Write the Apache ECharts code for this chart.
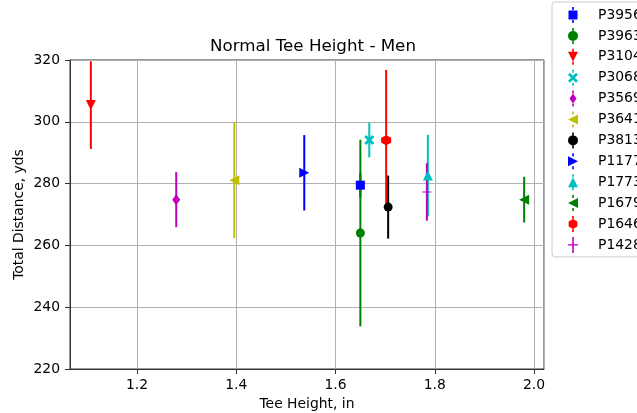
<!DOCTYPE html>
<html>
<head>
<meta charset="utf-8">
<script src="https://cdn.jsdelivr.net/npm/echarts@6/dist/echarts.min.js"></script>
<style>
  html, body { margin: 0; padding: 0; background: #fff; }
  #chart { width: 637px; height: 413px; }
</style>
</head>
<body>
<div id="chart"></div>
<script>
// 数据
var players = ['P3956', 'P3963', 'P3104', 'P3068', 'P3569', 'P3641', 'P3813', 'P1177', 'P1773', 'P1679', 'P1646', 'P1428'];
var teeHeight = [1.650, 1.650, 1.107, 1.668, 1.279, 1.396, 1.706, 1.537, 1.786, 1.980, 1.702, 1.784];
var totalDistance = [279.5, 264.0, 305.4, 294.1, 274.8, 281.1, 272.4, 283.5, 282.6, 274.8, 294.0, 277.3];
var distanceErr = [4.0, 30.2, 14.2, 5.6, 8.9, 18.7, 10.2, 12.2, 13.2, 7.4, 22.8, 9.3];
var yTicks = [220, 240, 260, 280, 300, 320];

// 样式
var colors = ['#0000ff', '#008000', '#ff0000', '#00bfbf', '#bf00bf', '#bfbf00', '#000000', '#0000ff', '#00bfbf', '#008000', '#ff0000', '#bf00bf'];
var symbols = [
    'rect',
    'circle',
    'path://M0,0L10,0L5,10Z',                                   // v
    'path://M2,0L5,3L8,0L10,2L7,5L10,8L8,10L5,7L2,10L0,8L3,5L0,2Z', // X
    'path://M5,0L8.5,5L5,10L1.5,5Z',                            // 细菱形
    'path://M10,0L10,10L0,5Z',                                  // <
    'circle',
    'path://M0,0L0,10L10,5Z',                                   // >
    'triangle',
    'path://M10,0L10,10L0,5Z',                                  // <
    'path://M5,0L9.33,2.5L9.33,7.5L5,10L0.67,7.5L0.67,2.5Z',    // 六边形
    'path://M4.4,0H5.6V4.4H10V5.6H5.6V10H4.4V5.6H0V4.4H4.4Z'    // +
];
var symbolSizes = [9, 9, 10, 10, [8, 11], 10, 9, 10, 10, 10, 10, 9];

// 图例图标：标记 + 上下误差线短头
var stub = 'M4.2,0H5.8V3H4.2Z M4.2,13H5.8V16H4.2Z ';
var legendShapes = [
    'M0.5,3.5H9.5V12.5H0.5Z',
    'M0,8A5,5 0 1,0 10,8A5,5 0 1,0 0,8Z',
    'M0,3L10,3L5,13Z',
    'M2,3L5,6L8,3L10,5L7,8L10,11L8,13L5,10L2,13L0,11L3,8L0,5Z',
    'M5,3L8.5,8L5,13L1.5,8Z',
    'M10,3L10,13L0,8Z',
    'M0,8A5,5 0 1,0 10,8A5,5 0 1,0 0,8Z',
    'M0,3L0,13L10,8Z',
    'M5,3L10,13L0,13Z',
    'M10,3L10,13L0,8Z',
    'M5,3L9.33,5.5L9.33,10.5L5,13L0.67,10.5L0.67,5.5Z',
    'M4.2,3H5.8V7.4H10V8.6H5.8V13H4.2V8.6H0V7.4H4.2Z'
];

var series = [];
players.forEach(function (name, i) {
    series.push({
        name: name,
        type: 'scatter',
        z: 3,
        symbol: symbols[i],
        symbolSize: symbolSizes[i],
        itemStyle: { color: colors[i], opacity: 1 },
        data: [[teeHeight[i], totalDistance[i]]]
    });
});
// 误差线
players.forEach(function (name, i) {
    series.push({
        name: name,
        type: 'custom',
        z: 2,
        itemStyle: { color: colors[i] },
        encode: { x: 0, y: 1 },
        data: [[teeHeight[i], totalDistance[i], distanceErr[i]]],
        renderItem: function (params, api) {
            var x = api.value(0), y = api.value(1), e = api.value(2);
            var p1 = api.coord([x, y + e]);
            var p2 = api.coord([x, y - e]);
            return {
                type: 'line',
                shape: { x1: p1[0], y1: p1[1], x2: p2[0], y2: p2[1] },
                style: { stroke: colors[i], lineWidth: 2 }
            };
        }
    });
});

var font = 'DejaVu Sans';
var axisColor = '#333';
var chart = echarts.init(document.getElementById('chart'));
chart.setOption({
    animation: false,
    textStyle: { fontFamily: font },
    title: {
        text: 'Normal Tee Height - Men',
        left: 308,
        top: 33,
        textAlign: 'center',
        textStyle: { fontFamily: font, fontSize: 16.7, fontWeight: 'normal', color: '#000' }
    },
    legend: {
        orient: 'vertical',
        left: 552,
        top: 2,
        padding: [5, 10, 4, 16],
        itemWidth: 30,
        itemHeight: 16,
        itemGap: 4.9,
        borderColor: '#cccccc',
        borderWidth: 1,
        borderRadius: 3,
        backgroundColor: '#fff',
        textStyle: { fontFamily: font, fontSize: 13.9, color: '#000', padding: [0, 0, 0, 5] },
        data: players.map(function (n, i) { return { name: n, icon: 'path://' + stub + legendShapes[i] }; })
    },
    grid: {
        left: 70, right: 93, top: 60, bottom: 44,
        outerBoundsMode: 'none',
        containLabel: false,
        show: true, borderColor: axisColor, borderWidth: 1
    },
    xAxis: {
        type: 'value',
        min: 1.065,
        max: 2.02,
        name: 'Tee Height, in',
        nameLocation: 'middle',
        nameGap: 28,
        nameTextStyle: { fontFamily: font, fontSize: 13.9, color: '#000' },
        axisLine: { show: true, lineStyle: { color: axisColor, width: 1 } },
        axisTick: { show: true, length: 5, lineStyle: { color: axisColor } },
        axisLabel: {
            showMinLabel: false, showMaxLabel: false,
            fontFamily: font, fontSize: 13.9, color: '#000', margin: 9,
            formatter: function (v) { return v.toFixed(1); }
        },
        splitLine: { show: true, lineStyle: { color: '#b0b0b0', width: 1 } }
    },
    yAxis: {
        type: 'value',
        min: yTicks[0],
        max: yTicks[yTicks.length - 1],
        interval: 20,
        name: 'Total Distance, yds',
        nameLocation: 'middle',
        nameGap: 44,
        nameMoveOverlap: false,
        nameTextStyle: { fontFamily: font, fontSize: 13.9, color: '#000' },
        axisLine: { show: true, lineStyle: { color: axisColor, width: 1 } },
        axisTick: { show: true, length: 5, lineStyle: { color: axisColor } },
        axisLabel: { fontFamily: font, fontSize: 13.9, color: '#000', margin: 10 },
        splitLine: { show: true, lineStyle: { color: '#b0b0b0', width: 1 } }
    },
    series: series
});
</script>
</body>
</html>
